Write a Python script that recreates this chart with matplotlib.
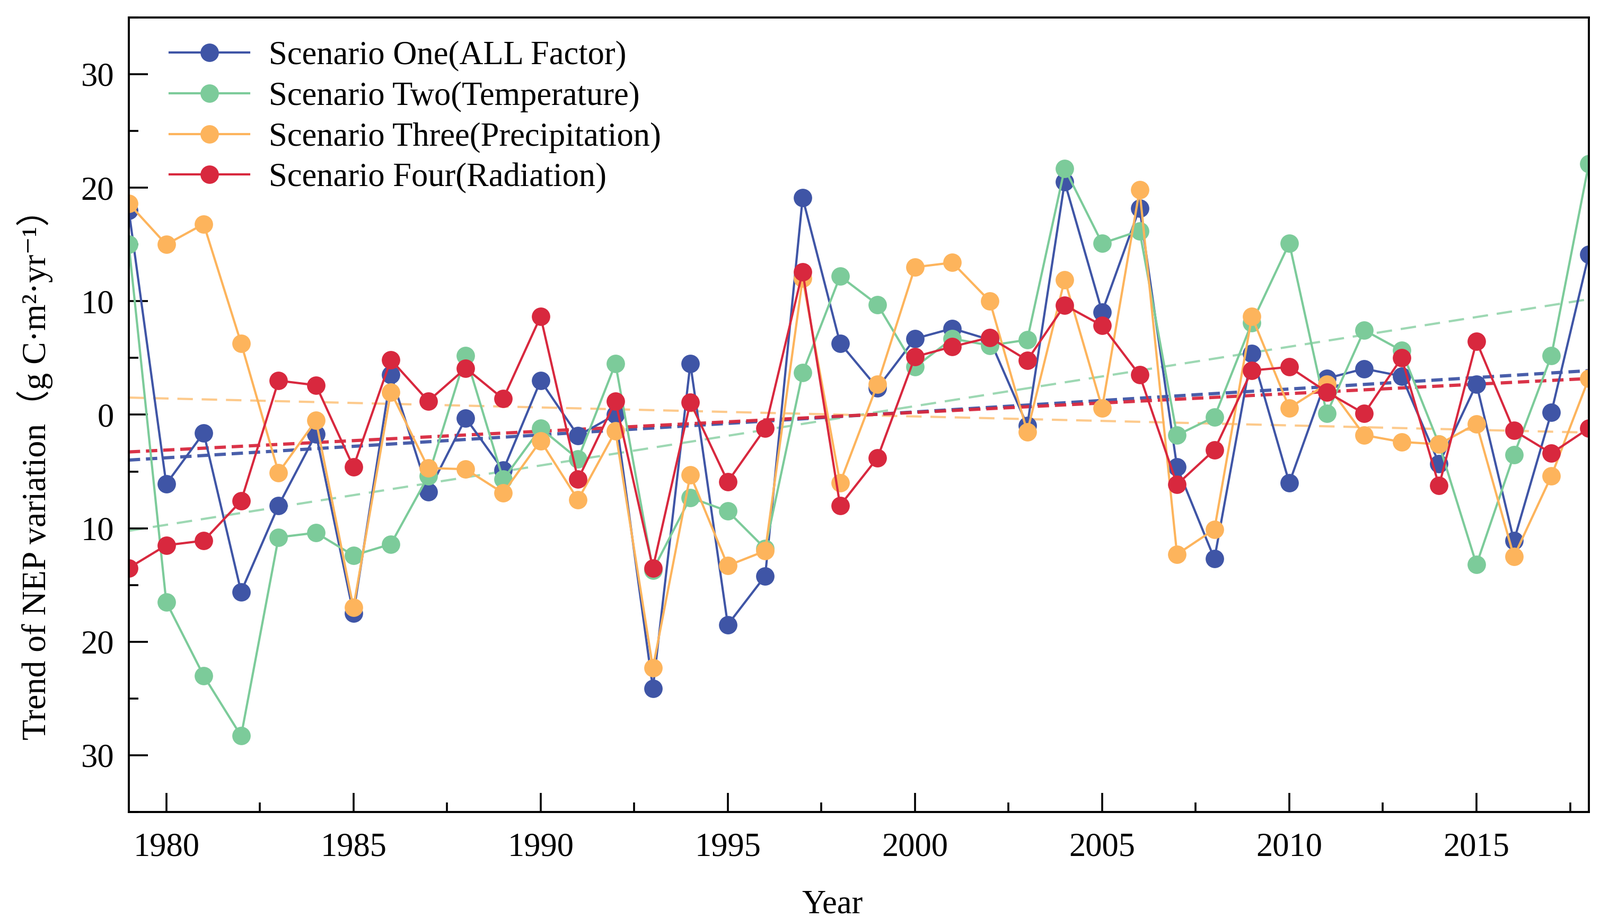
import numpy as np
import matplotlib
matplotlib.use("Agg")
import matplotlib.pyplot as plt
from matplotlib.ticker import MultipleLocator, FixedLocator, FixedFormatter

plt.rcParams['font.family'] = ['Liberation Serif', 'DejaVu Serif', 'Noto Sans CJK SC']

years = np.arange(1979, 2019)

# Scenario One (ALL Factor)
s_one = [18.0, -6.1, -1.6, -15.6, -8.0, -1.7, -17.5, 3.5, -6.8, -0.3,
         -4.9, 3.0, -1.85, 0.0, -24.1, 4.5, -18.5, -14.2, 19.1, 6.3,
         2.35, 6.7, 7.6, 6.6, -0.95, 20.5, 9.05, 18.2, -4.6, -12.7,
         5.4, -6.0, 3.2, 4.05, 3.4, -4.3, 2.7, -11.1, 0.2, 14.1]
# Scenario Two (Temperature)
s_two = [15.0, -16.5, -23.0, -28.3, -10.8, -10.4, -12.4, -11.4, -5.4, 5.2,
         -5.7, -1.2, -3.9, 4.5, -13.7, -7.3, -8.5, -11.8, 3.7, 12.2,
         9.7, 4.2, 6.7, 6.1, 6.6, 21.7, 15.1, 16.2, -1.8, -0.2,
         8.1, 15.1, 0.1, 7.45, 5.65, -2.6, -13.2, -3.55, 5.2, 22.1]
# Scenario Three (Precipitation)
s_three = [18.6, 15.0, 16.8, 6.3, -5.1, -0.5, -17.0, 2.0, -4.7, -4.8,
           -6.9, -2.3, -7.5, -1.45, -22.3, -5.3, -13.3, -12.0, 12.0, -6.0,
           2.7, 13.0, 13.4, 10.0, -1.5, 11.9, 0.6, 19.8, -12.3, -10.1,
           8.65, 0.6, 2.7, -1.8, -2.4, -2.6, -0.8, -12.5, -5.4, 3.2]
# Scenario Four (Radiation)
s_four = [-13.5, -11.5, -11.1, -7.6, 3.0, 2.6, -4.6, 4.85, 1.2, 4.1,
          1.4, 8.65, -5.7, 1.2, -13.5, 1.1, -5.9, -1.2, 12.6, -8.0,
          -3.8, 5.1, 6.0, 6.8, 4.8, 9.65, 7.85, 3.5, -6.15, -3.1,
          3.9, 4.2, 2.0, 0.1, 5.0, -6.25, 6.45, -1.4, -3.4, -1.2]

labels = ['Scenario One(ALL Factor)', 'Scenario Two(Temperature)',
          'Scenario Three(Precipitation)', 'Scenario Four(Radiation)']
colors = ['#3F55A6', '#7CCB9A', '#FDB45C', '#D8283E']
series = [s_one, s_two, s_three, s_four]

fs = 22.5

fig = plt.figure(figsize=(15.09, 8.66), dpi=200)
ax = fig.add_axes([0.0805, 0.1155, 0.9125, 0.8655])

# trend lines first (under the points)
trend_lw = [2.2, 1.5, 1.5, 2.2]
trend_alpha = [0.95, 0.75, 0.7, 0.95]
trend_dash = [(3.5, 1.8), (7, 4), (7, 4), (3.5, 1.8)]
for s, c, lw, a, d in zip(series, colors, trend_lw, trend_alpha, trend_dash):
    k, b = np.polyfit(years, s, 1)
    ax.plot(years, k * years + b, color=c, lw=lw, alpha=a, dashes=d, zorder=1)

# draw order: blue, orange, red, green on top
handles = [None] * 4
for i in [0, 2, 3, 1]:
    ln, = ax.plot(years, series[i], '-o', color=colors[i], lw=1.5,
                  markersize=11.5, label=labels[i], zorder=2 + i * 0.1)
    handles[i] = ln

ax.set_xlim(1979, 2018)
ax.set_ylim(-35, 35)

ax.xaxis.set_major_locator(MultipleLocator(5))
ax.xaxis.set_minor_locator(MultipleLocator(2.5))
yt = [-30, -20, -10, 0, 10, 20, 30]
ax.yaxis.set_major_locator(FixedLocator(yt))
ax.yaxis.set_major_formatter(FixedFormatter([str(abs(v)) for v in yt]))
ax.yaxis.set_minor_locator(MultipleLocator(5))

ax.tick_params(which='major', direction='in', length=13, width=1.3,
               labelsize=fs)
ax.tick_params(axis='x', which='major', pad=14)
ax.tick_params(axis='y', which='major', pad=10)
ax.tick_params(which='minor', direction='in', length=6.5, width=1.3)
for sp in ax.spines.values():
    sp.set_linewidth(1.4)

ax.set_xlabel('Year', fontsize=fs)
ax.xaxis.set_label_coords(0.482, -0.098)
ax.set_ylabel('Trend of NEP variation（g C·m²·yr⁻¹）', fontsize=fs + 0.5)
ax.yaxis.set_label_coords(-0.052, 0.435)

ax.legend(handles=handles, loc='upper left', bbox_to_anchor=(0.012, 1.0),
          frameon=False, fontsize=fs, handlelength=2.4, labelspacing=0.3,
          handletextpad=0.6, borderaxespad=0.3)

fig.savefig('out.png', dpi=200)
